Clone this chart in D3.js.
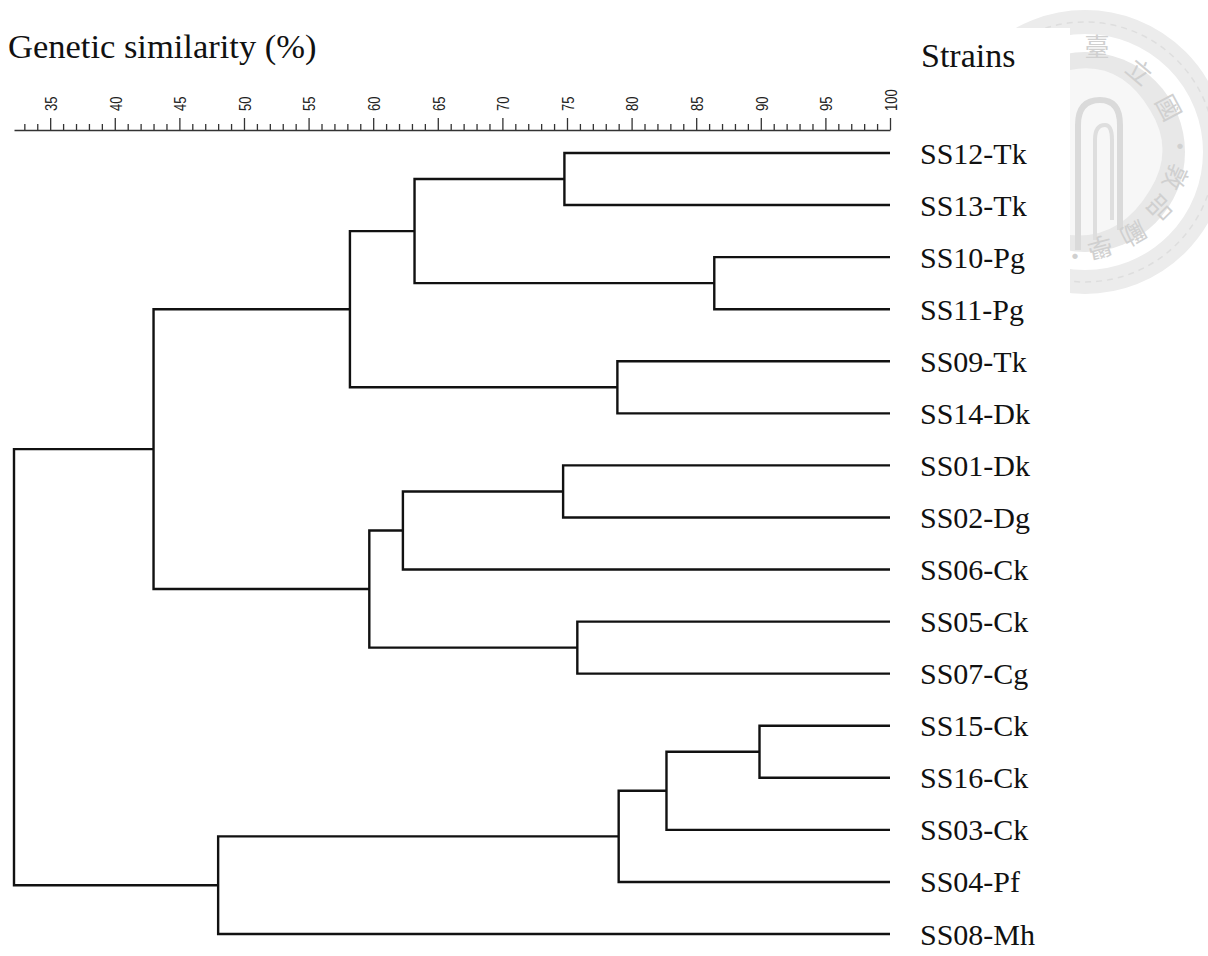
<!DOCTYPE html>
<html>
<head>
<meta charset="utf-8">
<script src="https://cdn.jsdelivr.net/npm/d3@7"></script>
<style>
  html, body { margin: 0; padding: 0; background: #fff; }
  svg { display: block; }
</style>
</head>
<body>
<svg id="chart" width="1208" height="956"></svg>
<script>
// ---------------- data ----------------
const strains = ["SS12-Tk","SS13-Tk","SS10-Pg","SS11-Pg","SS09-Tk","SS14-Dk",
                 "SS01-Dk","SS02-Dg","SS06-Ck","SS05-Ck","SS07-Cg",
                 "SS15-Ck","SS16-Ck","SS03-Ck","SS04-Pf","SS08-Mh"];
// cluster merges: [id, childA, childB, similarity %]
const mergeIds   = ["n1","n2","n3","n4","n5","n6","n7","n8","n9","n10","n11","n12","n13","n14","root"];
const mergeLeft  = ["SS12-Tk","SS10-Pg","n1","SS09-Tk","n3","SS01-Dk","n6","SS05-Ck","n7","n5","SS15-Ck","n11","n12","n13","n10"];
const mergeRight = ["SS13-Tk","SS11-Pg","n2","SS14-Dk","n4","SS02-Dg","SS06-Ck","SS07-Cg","n8","n9","SS16-Ck","SS03-Ck","SS04-Pf","SS08-Mh","n14"];
const mergeSim   = [74.8, 86.4, 63.2, 78.9, 58.2, 74.7, 62.3, 75.8, 59.7, 43.0, 89.9, 82.7, 79.0, 48.0, 32.2];
const majorTicks = [35,40,45,50,55,60,65,70,75,80,85,90,95,100];
const minorTicks = d3.range(33, 100, 1);
const titleText = "Genetic similarity (%)";
const strainsTitle = "Strains";
const sealChars = ["臺","立","國","·","敦","品","勵","學","·"];

// ---------------- setup ----------------
const svg = d3.select("#chart");
const serif = "'Liberation Serif','Times New Roman',Times,serif";
const sans = "'Liberation Sans',Arial,Helvetica,sans-serif";

// faint watermark seal (top right)
const seal = svg.append("g").attr("class", "watermark");
const sc = [1085, 152], sr = 142;
seal.append("circle").attr("cx", sc[0]).attr("cy", sc[1]).attr("r", sr - 12)
  .attr("fill", "none").attr("stroke", "#ececec").attr("stroke-width", 24);
seal.append("circle").attr("cx", sc[0]).attr("cy", sc[1]).attr("r", sr - 12)
  .attr("fill", "none").attr("stroke", "#dedede").attr("stroke-width", 1.5)
  .attr("stroke-dasharray", "6 5");
seal.append("circle").attr("cx", sc[0]).attr("cy", sc[1]).attr("r", 100)
  .attr("fill", "#e8e8e8");
seal.append("path")
  .attr("d", "M1070,70 Q1120,60 1150,110 Q1175,150 1150,190 Q1120,240 1070,235 Z")
  .attr("fill", "#f7f7f7");
seal.append("path")
  .attr("d", "M1078,250 V125 Q1078,100 1100,100 Q1120,100 1120,125 V230")
  .attr("fill", "none").attr("stroke", "#dadada").attr("stroke-width", 6);
seal.append("path")
  .attr("d", "M1095,240 V140 Q1095,125 1105,125 Q1112,125 1112,140 V220")
  .attr("fill", "none").attr("stroke", "#dedede").attr("stroke-width", 4);
const sealPos = [[1097,47],[1139,72],[1168,108],[1180,147],[1175,177],[1160,208],[1133,233],[1100,247],[1075,257]];
const sealRot = [0,40,62,0,115,135,150,165,0];
seal.selectAll("text.sc").data(sealChars).join("text")
  .attr("class", "sc")
  .attr("transform", (d, i) => `translate(${sealPos[i][0]},${sealPos[i][1]}) rotate(${sealRot[i]})`)
  .attr("text-anchor", "middle").attr("dy", "0.35em")
  .style("font-family", "'Noto Sans CJK TC','Noto Sans CJK SC',sans-serif")
  .style("font-size", "25px").attr("fill", "#d0d0d0")
  .text(d => d);
// white mask over the seal (chart area)
svg.append("rect").attr("x", 0).attr("y", 28).attr("width", 1070).attr("height", 956).attr("fill", "#fff");

// ---------------- scales ----------------
const x = d3.scaleLinear().domain([d3.min(mergeSim), 100]).range([14, 890]);
const y = d3.scalePoint().domain(strains).range([153, 934]);

// build hierarchy
const nodeMap = new Map();
strains.forEach(s => nodeMap.set(s, { id: s, sim: 100, children: null }));
mergeIds.forEach((id, i) => {
  nodeMap.set(id, { id, sim: mergeSim[i], children: [nodeMap.get(mergeLeft[i]), nodeMap.get(mergeRight[i])] });
});
const root = d3.hierarchy(nodeMap.get("root"));
root.eachAfter(n => {
  n.px = x(n.data.sim);
  n.py = n.children ? (n.children[0].py + n.children[n.children.length - 1].py) / 2 : y(n.data.id);
});

// ---------------- axis ----------------
const axisY = 130;
const gAxis = svg.append("g").attr("transform", `translate(0,${axisY})`);
gAxis.call(d3.axisTop(x).tickValues(minorTicks).tickSize(6).tickSizeOuter(0).tickFormat(""));
gAxis.call(g => g.selectAll(".tick").filter(d => majorTicks.includes(d)).remove());
const gMajor = svg.append("g").attr("transform", `translate(0,${axisY})`);
gMajor.call(d3.axisTop(x).tickValues(majorTicks).tickSize(12).tickSizeOuter(0).tickFormat(d3.format("d")));
gMajor.select(".domain").remove();
[gAxis, gMajor].forEach(g => {
  g.selectAll("path, line").attr("stroke", "#333").attr("stroke-width", 1.3);
});
gMajor.attr("font-size", null).attr("font-family", null);
gMajor.selectAll(".tick text")
  .attr("transform", "translate(0,-19) rotate(-90) scale(0.9,1.2)")
  .attr("x", 0).attr("y", 0).attr("dy", "0.36em")
  .style("text-anchor", "start")
  .style("font-family", sans).style("font-size", "14.5px")
  .attr("fill", "#222");

// ---------------- titles ----------------
svg.append("text").attr("x", 8).attr("y", 58)
  .style("font-family", serif).style("font-size", "34.5px").attr("fill", "#111")
  .text(titleText);
svg.append("text").attr("x", 921).attr("y", 67)
  .style("font-family", serif).style("font-size", "34px").attr("fill", "#111")
  .text(strainsTitle);

// ---------------- dendrogram ----------------
const gTree = svg.append("g");
gTree.selectAll("path.link")
  .data(root.descendants().filter(n => n.children))
  .join("path")
  .attr("class", "link")
  .attr("d", n => {
    const a = n.children[0], b = n.children[n.children.length - 1];
    return `M${a.px},${a.py}H${n.px}V${b.py}H${b.px}`;
  })
  .attr("fill", "none").attr("stroke", "#111").attr("stroke-width", 2.4)
  .attr("stroke-linejoin", "miter");

// leaf labels
svg.append("g").selectAll("text.leaf")
  .data(root.leaves())
  .join("text")
  .attr("class", "leaf")
  .attr("x", 920).attr("y", n => n.py + 10.5)
  .style("font-family", serif).style("font-size", "30px").attr("fill", "#111")
  .text(n => n.data.id);
</script>
</body>
</html>
